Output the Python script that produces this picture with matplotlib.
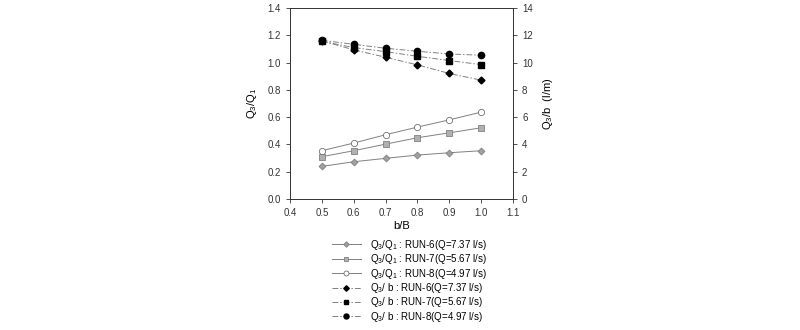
import matplotlib
matplotlib.use("Agg")
from matplotlib import pyplot as plt

bB = [0.5, 0.6, 0.7, 0.8, 0.9, 1.0]

# Q3/Q1 (left axis)
ratio_run6 = [0.239, 0.273, 0.298, 0.322, 0.339, 0.354]
ratio_run7 = [0.310, 0.354, 0.402, 0.449, 0.485, 0.522]
ratio_run8 = [0.354, 0.410, 0.471, 0.527, 0.580, 0.637]

# Q3/b in l/m (right axis)
qb_run6 = [11.60, 10.93, 10.39, 9.83, 9.20, 8.71]
qb_run7 = [11.56, 11.10, 10.80, 10.46, 10.15, 9.85]
qb_run8 = [11.63, 11.34, 11.05, 10.83, 10.63, 10.54]

labels = [
    "Q$_3$/Q$_1$ : RUN-6(Q=7.37 l/s)",
    "Q$_3$/Q$_1$ : RUN-7(Q=5.67 l/s)",
    "Q$_3$/Q$_1$ : RUN-8(Q=4.97 l/s)",
    "Q$_3$/ b : RUN-6(Q=7.37 l/s)",
    "Q$_3$/ b : RUN-7(Q=5.67 l/s)",
    "Q$_3$/ b : RUN-8(Q=4.97 l/s)",
]

plt.rcParams['font.family'] = ['Liberation Sans', 'DejaVu Sans']
plt.rcParams['mathtext.fontset'] = 'custom'
plt.rcParams['mathtext.rm'] = 'Liberation Sans'
plt.rcParams['mathtext.it'] = 'Liberation Sans'
plt.rcParams['font.size'] = 7

fig = plt.figure(figsize=(8, 3.3), dpi=100)
ax = fig.add_axes([290/800, 1-199/330, 223/800, 191/330])
ax2 = ax.twinx()

lc = "#808080"
dash = (0, (6, 2, 1.5, 2))
ms = 4
h = []
h += ax.plot(bB, ratio_run6, color=lc, lw=0.7, marker="D", ms=ms-0.5, mfc="#a0a0a0", mec="#808080", mew=0.6)
h += ax.plot(bB, ratio_run7, color=lc, lw=0.7, marker="s", ms=ms, mfc="#b0b0b0", mec="#808080", mew=0.6)
h += ax.plot(bB, ratio_run8, color=lc, lw=0.7, marker="o", ms=ms+0.5, mfc="white", mec="#707070", mew=0.6)
h += ax2.plot(bB, qb_run6, color=lc, lw=0.7, ls=dash, marker="D", ms=ms-0.5, mfc="black", mec="black")
h += ax2.plot(bB, qb_run7, color=lc, lw=0.7, ls=dash, marker="s", ms=ms, mfc="black", mec="black")
h += ax2.plot(bB, qb_run8, color=lc, lw=0.7, ls=dash, marker="o", ms=ms+0.5, mfc="black", mec="black")

ax.set_xlim(0.4, 1.1)
ax.set_ylim(0, 1.4)
ax2.set_ylim(0, 14)
ax.set_xticks([0.4, 0.5, 0.6, 0.7, 0.8, 0.9, 1.0, 1.1])
ax.set_yticks([0.0, 0.2, 0.4, 0.6, 0.8, 1.0, 1.2, 1.4])
ax2.set_yticks(range(0, 15, 2))
ax.xaxis.set_major_formatter(matplotlib.ticker.FormatStrFormatter("%.1f"))
ax.yaxis.set_major_formatter(matplotlib.ticker.FormatStrFormatter("%.1f"))

for a in (ax, ax2):
    a.tick_params(direction="out", length=3, width=0.6, labelsize=7, colors="#333333", labelcolor="#333333")
    for s in a.spines.values():
        s.set_linewidth(0.6)
        s.set_color("#333333")

ax.set_xlabel("b/B", fontsize=8, labelpad=2)
ax.set_ylabel("Q$_3$/Q$_1$", fontsize=8, labelpad=6)
ax2.set_ylabel("Q$_3$/b  (l/m)", fontsize=8, labelpad=6)

fig.legend(h, labels, loc="upper left", bbox_to_anchor=(328/800, 1-234/330),
           frameon=False, fontsize=7, handlelength=3.0, labelspacing=0.04,
           handletextpad=0.9, borderaxespad=0, markerscale=0.8)

fig.savefig("out.png", dpi=100)
